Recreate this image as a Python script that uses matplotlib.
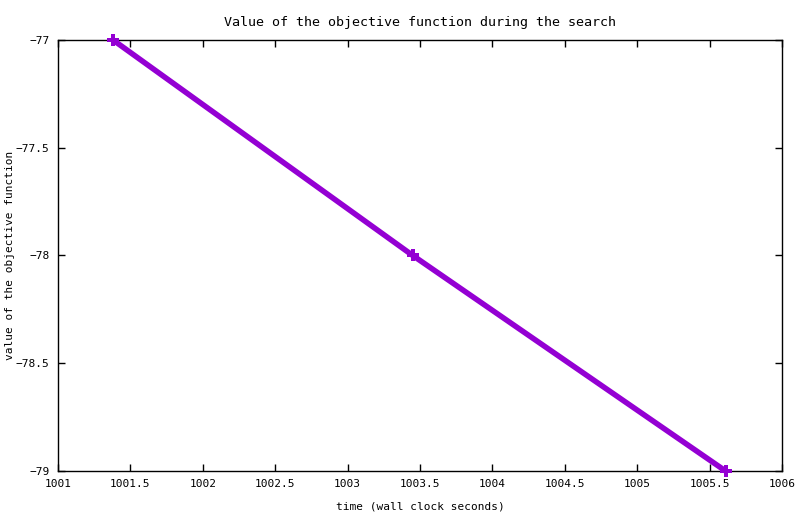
import matplotlib
matplotlib.use('Agg')
import matplotlib.pyplot as plt

# search trace: wall clock time vs objective value
times = [1001.38, 1003.45, 1005.61]
objective = [-77, -78, -79]

plt.rcParams['font.family'] = 'DejaVu Sans Mono'
plt.rcParams['font.size'] = 8

fig = plt.figure(figsize=(8, 5.14), dpi=100, facecolor='white')
ax = fig.add_axes([0.0725, 0.0837, 0.905, 0.8385])

ax.plot(times, objective, color='#9400D3', linewidth=4,
        marker='P', markersize=9, markeredgewidth=0, clip_on=False, zorder=5)

ax.set_xlim(1001, 1006)
ax.set_ylim(-79, -77)
ax.set_xticks([1001, 1001.5, 1002, 1002.5, 1003, 1003.5, 1004, 1004.5, 1005, 1005.5, 1006])
ax.set_xticklabels(['1001', '1001.5', '1002', '1002.5', '1003', '1003.5',
                    '1004', '1004.5', '1005', '1005.5', '1006'])
ax.set_yticks([-79, -78.5, -78, -77.5, -77])
ax.set_yticklabels(['\u221279', '\u221278.5', '\u221278', '\u221277.5', '\u221277'])
ax.tick_params(direction='in', length=5, width=1, top=True, right=True, pad=6)
for sp in ax.spines.values():
    sp.set_linewidth(1)

ax.set_xlabel('time (wall clock seconds)')
ax.xaxis.set_label_coords(0.5, -0.07)
ax.set_ylabel('value of the objective function')
ax.yaxis.set_label_coords(-0.06, 0.5)
ax.set_title('Value of the objective function during the search', pad=10)

fig.savefig('out.png', dpi=100, facecolor='white')
